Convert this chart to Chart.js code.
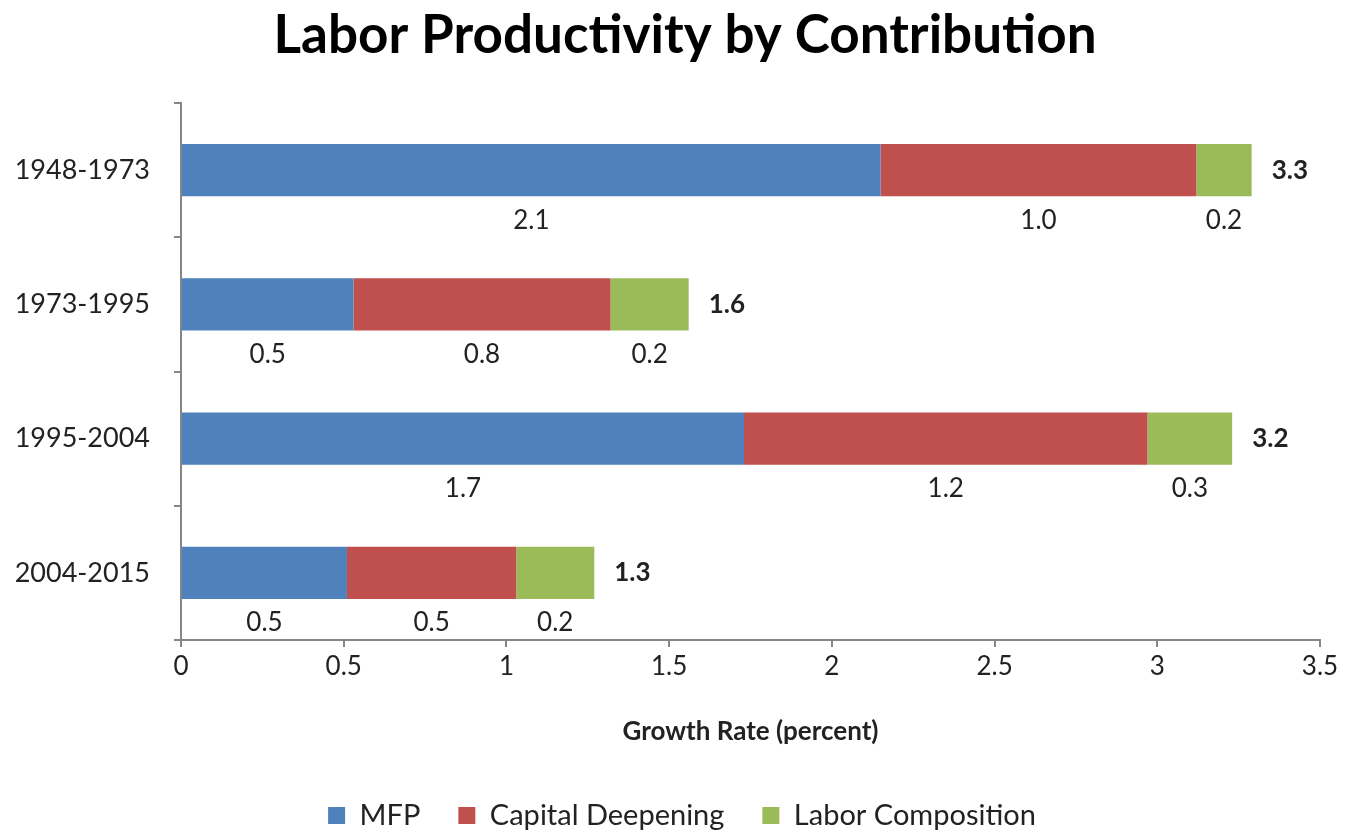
<!DOCTYPE html>
<html>
<head>
<meta charset="utf-8">
<script src="https://cdn.jsdelivr.net/npm/chart.js@4.4.1/dist/chart.umd.min.js"></script>
<style>
  html, body { margin: 0; padding: 0; background: #fff; }
  #wrap { width: 1349px; height: 832px; }
</style>
</head>
<body>
<div id="wrap"><canvas id="chart" width="1349" height="832"></canvas></div>
<script>
// data
const periods = ['1948-1973', '1973-1995', '1995-2004', '2004-2015'];
const mfp = [2.15, 0.53, 1.73, 0.51];
const capitalDeepening = [0.97, 0.79, 1.24, 0.52];
const laborComposition = [0.17, 0.24, 0.26, 0.24];
const xTicks = [0, 0.5, 1, 1.5, 2, 2.5, 3, 3.5];

const FONT = 'Lato';
Chart.defaults.font.family = FONT;
Chart.defaults.color = '#222';

// title drawn at a fixed spot above the plot
const titlePlugin = {
    id: 'topTitle',
    afterDraw(chart) {
        const ctx = chart.ctx;
        ctx.save();
        ctx.font = 'bold 53px ' + FONT;
        ctx.fillStyle = '#000';
        ctx.textAlign = 'center';
        ctx.textBaseline = 'middle';
        ctx.fillText('Labor Productivity by Contribution', 685, 36);
        ctx.restore();
    }
};

// nudge the legend down and right a little (its padding also sets the item gaps)
const legendShift = {
    id: 'legendShift',
    afterLayout(chart) {
        const lg = chart.legend;
        if (!lg) return;
        const dx = 22, dy = 8;
        lg.top += dy;
        lg.bottom += dy;
        lg.left += dx;
        lg.right += dx;
        lg.legendHitBoxes.forEach(b => { b.top += dy; b.left += dx; });
    }
};

// segment values under each piece, total to the right in bold
const valueLabels = {
    id: 'valueLabels',
    afterDatasetsDraw(chart) {
        const ctx = chart.ctx;
        ctx.save();
        ctx.fillStyle = '#222';
        ctx.textBaseline = 'middle';
        ctx.font = '26px ' + FONT;
        ctx.textAlign = 'center';
        chart.data.datasets.forEach((ds, d) => {
            const meta = chart.getDatasetMeta(d);
            meta.data.forEach((el, i) => {
                ctx.fillText(ds.data[i].toFixed(1), (el.x + el.base) / 2, el.y + 50);
            });
        });
        const last = chart.getDatasetMeta(chart.data.datasets.length - 1);
        ctx.font = 'bold 26px ' + FONT;
        ctx.textAlign = 'left';
        last.data.forEach((el, i) => {
            const total = mfp[i] + capitalDeepening[i] + laborComposition[i];
            ctx.fillText(total.toFixed(1), el.x + 20, el.y);
        });
        ctx.restore();
    }
};

new Chart(document.getElementById('chart'), {
    type: 'bar',
    data: {
        labels: periods,
        datasets: [
            { label: 'MFP', data: mfp, backgroundColor: '#4F81BD' },
            { label: 'Capital Deepening', data: capitalDeepening, backgroundColor: '#C0504D' },
            { label: 'Labor Composition', data: laborComposition, backgroundColor: '#9BBB59' }
        ]
    },
    options: {
        indexAxis: 'y',
        responsive: false,
        animation: false,
        layout: { padding: { top: 103, right: 29, left: 0, bottom: 0 } },
        datasets: {
            bar: { barPercentage: 0.39, categoryPercentage: 1 }
        },
        scales: {
            x: {
                stacked: true,
                min: 0,
                max: 3.5,
                afterBuildTicks(scale) {
                    scale.ticks = xTicks.map(v => ({ value: v }));
                },
                afterFit(scale) { scale.height = 115; },
                ticks: {
                    font: { size: 26 },
                    color: '#222',
                    padding: 4,
                    callback: v => String(v)
                },
                grid: { drawOnChartArea: false, tickLength: 7, color: '#868686', lineWidth: 2 },
                border: { color: '#868686', width: 2 },
                title: {
                    display: true,
                    text: 'Growth Rate (percent)',
                    font: { size: 26, weight: 'bold' },
                    color: '#222',
                    padding: { top: 20, bottom: 8 }
                }
            },
            y: {
                stacked: true,
                afterFit(scale) { scale.width = 181; },
                ticks: { font: { size: 27 }, color: '#222', padding: 24 },
                grid: { drawOnChartArea: false, tickLength: 7, color: '#868686', lineWidth: 2 },
                border: { color: '#868686', width: 2 }
            }
        },
        plugins: {
            tooltip: { enabled: false },
            legend: {
                position: 'bottom',
                labels: {
                    font: { size: 29 },
                    color: '#222',
                    boxWidth: 17,
                    boxHeight: 17,
                    padding: 38
                }
            }
        }
    },
    plugins: [titlePlugin, legendShift, valueLabels]
});
</script>
</body>
</html>
